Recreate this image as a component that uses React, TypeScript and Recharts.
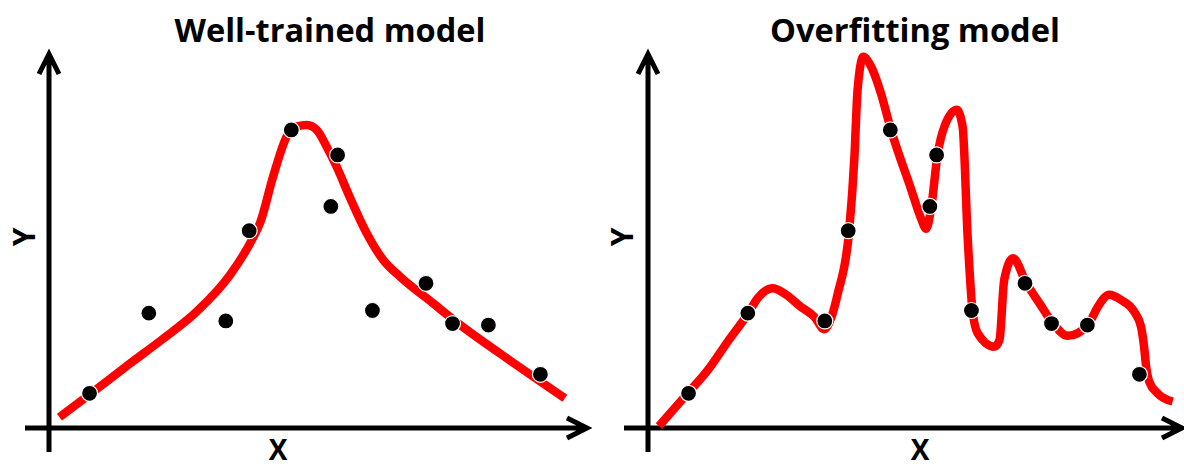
import { ComposedChart, Customized, Line, Scatter, XAxis, YAxis } from 'recharts'

// same noisy samples are shown on both panels
const pointX = [7.8, 19.2, 34.0, 38.5, 46.6, 55.5, 54.2, 62.2, 72.5, 77.6, 84.5, 94.5]
const pointY = [9.3, 30.8, 28.7, 52.9, 79.9, 73.2, 59.4, 31.5, 38.8, 28.0, 27.6, 14.4]

// smooth fit (left)
const goodFitX = [2.0, 7.9, 15.6, 22.0, 28.4, 34.8, 39.2, 40.6, 43.1, 45.7, 47.6, 49.6, 51.5, 53.4, 55.3, 57.9, 61.1, 64.3, 67.5, 73.9, 77.8, 86.7, 93.1, 99.2]
const goodFitY = [2.9, 9.1, 17.3, 24.0, 31.2, 41.0, 50.9, 55.0, 67.4, 78.1, 80.8, 81.2, 79.9, 75.4, 70.1, 61.7, 52.2, 45.0, 40.6, 33.4, 29.0, 20.0, 13.8, 8.0]

// wiggly fit (right)
const overFitX = [2.1, 7.9, 11.5, 15.3, 19.4, 21.1, 24.0, 26.2, 29.4, 32.0, 33.9, 35.2, 36.5, 38.7, 39.7, 40.3, 41.4, 42.9, 44.8, 46.7, 50.6, 52.5, 53.5, 54.4, 55.7, 57.0, 59.4, 60.5, 61.5, 62.4, 63.4, 66.6, 67.6, 68.5, 70.2, 72.7, 75.3, 77.8, 80.7, 84.7, 86.5, 88.7, 91.0, 93.5, 94.8, 95.4, 95.8, 96.4, 98.0, 100.9]
const overFitY = [0.5, 9.7, 15.5, 23.1, 31.0, 34.8, 37.5, 36.1, 32.5, 29.8, 26.5, 29.4, 36.1, 53.1, 72.7, 90.6, 99.5, 96.9, 89.7, 80.1, 64.0, 56.2, 53.4, 58.5, 73.4, 80.8, 85.3, 80.8, 50.4, 31.6, 25.4, 21.8, 23.6, 39.7, 45.5, 39.0, 33.4, 28.2, 24.7, 27.8, 32.5, 35.7, 34.3, 31.2, 27.2, 21.8, 16.4, 12.4, 9.3, 7.1]

const points = pointX.map((x, i) => ({ x, y: pointY[i] }))
const goodFit = goodFitX.map((x, i) => ({ x, y: goodFitY[i] }))
const overFit = overFitX.map((x, i) => ({ x, y: overFitY[i] }))

const W = 592
const H = 468
const PLOT_W = 530.4
const TOP = 55
const BOTTOM = 40
const FONT = "'Open Sans', 'DejaVu Sans', sans-serif"

interface FrameProps {
    left: number
    xEnd: number
    title: string
    titleX: number
    titleWidth: number
    xLabelX: number
    yLabelX: number
}

function Frame({ left, xEnd, title, titleX, titleWidth, xLabelX, yLabelX }: FrameProps) {
    const base = H - BOTTOM
    return (
        <g>
            <path
                d={`M${left},${base + 24} L${left},${TOP - 1} M${left - 10},${TOP + 19} L${left},${TOP - 1} L${left + 10},${TOP + 19}`}
                stroke="#000"
                strokeWidth={5}
                fill="none"
            />
            <path
                d={`M${left - 24},${base} L${xEnd},${base} M${xEnd - 20},${base - 10} L${xEnd},${base} L${xEnd - 20},${base + 10}`}
                stroke="#000"
                strokeWidth={5}
                fill="none"
            />
            <text
                x={titleX}
                y={42}
                textAnchor="middle"
                fontFamily={FONT}
                fontWeight={700}
                fontSize={32}
                textLength={titleWidth}
                lengthAdjust="spacingAndGlyphs"
                fill="#000"
            >
                {title}
            </text>
            <text x={xLabelX} y={460} textAnchor="middle" fontFamily={FONT} fontWeight={700} fontSize={28} fill="#000">
                X
            </text>
            <text
                transform={`translate(${yLabelX},237) rotate(-90)`}
                textAnchor="middle"
                dominantBaseline="central"
                fontFamily={FONT}
                fontWeight={700}
                fontSize={30}
                fill="#000"
            >
                Y
            </text>
        </g>
    )
}

function Dot(props: any) {
    const { cx, cy } = props
    return <circle cx={cx} cy={cy} r={8} fill="#000" stroke="#fff" strokeWidth={1.2} />
}

function Panel({ curve, left, frame }: { curve: { x: number; y: number }[]; left: number; frame: Omit<FrameProps, 'left'> }) {
    return (
        <ComposedChart
            width={W}
            height={H}
            margin={{ top: TOP, left, right: W - left - PLOT_W, bottom: BOTTOM }}
        >
            <XAxis type="number" dataKey="x" domain={[0, 102]} hide />
            <YAxis type="number" dataKey="y" domain={[0, 100]} hide />
            <Customized component={<Frame left={left} {...frame} />} />
            <Line
                data={curve}
                dataKey="y"
                type="monotone"
                stroke="#ff0000"
                strokeWidth={8.5}
                dot={false}
                activeDot={false}
                isAnimationActive={false}
            />
            <Scatter data={points} dataKey="y" shape={<Dot />} isAnimationActive={false} />
        </ComposedChart>
    )
}

export default function App() {
    return (
        <div style={{ position: 'absolute', left: 0, top: 0, width: 1184, height: 468, display: 'flex', background: '#fff' }}>
            <Panel
                curve={goodFit}
                left={49}
                frame={{ xEnd: 587, title: 'Well-trained model', titleX: 330, titleWidth: 311, xLabelX: 278, yLabelX: 23 }}
            />
            <Panel
                curve={overFit}
                left={56}
                frame={{ xEnd: 590, title: 'Overfitting model', titleX: 323, titleWidth: 290, xLabelX: 328, yLabelX: 29 }}
            />
        </div>
    )
}
